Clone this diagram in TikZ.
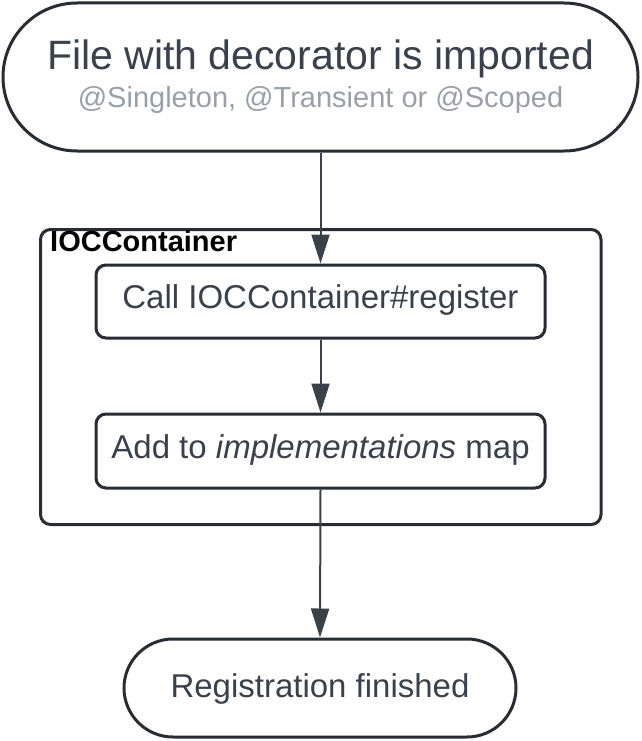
\documentclass[tikz,border=0pt]{standalone}
\usepackage{fontspec}
\setmainfont{Liberation Sans}
\usetikzlibrary{arrows.meta}
\definecolor{textc}{HTML}{3A414A}
\definecolor{linec}{HTML}{282C33}
\definecolor{subc}{HTML}{9AA0A8}
\tikzset{
  stadium/.style={draw=linec, line width=3pt, fill=white, inner sep=0pt},
  stepbox/.style={draw=linec, line width=3pt, fill=white, rounded corners=10pt, inner sep=0pt, minimum width=449pt},
  arr/.style={draw=textc, line width=2pt, -{Triangle[length=29pt,width=18pt]}},
  bigtxt/.style={text=textc, anchor=base, inner sep=0pt, font=\fontsize{41}{49}\selectfont},
  midtxt/.style={text=textc, anchor=base, inner sep=0pt, font=\fontsize{33}{40}\selectfont},
}
\begin{document}
\begin{tikzpicture}[x=1pt,y=-1pt]
\useasboundingbox (0,0) rectangle (641,741);
% container
\node[draw=linec, line width=3pt, rounded corners=10pt, minimum width=560.5pt, minimum height=295pt, inner sep=0pt] (cont) at (320.75,377) {};
\node[anchor=base west, inner sep=0pt, font=\fontsize{29}{35}\selectfont\bfseries] (contlbl) at (50,251) {IOCContainer};
% top
\node[stadium, rounded corners=74pt, minimum width=635pt, minimum height=148pt] (top) at (320.5,77) {};
\node[bigtxt] (toptxt) at (320.5,70) {File with decorator is imported};
\node[text=subc, anchor=base, inner sep=0pt, font=\fontsize{29}{35}\selectfont] (topsub) at (320.5,108) {@Singleton, @Transient or @Scoped};
% steps
\node[stepbox, minimum height=73pt] (call) at (320.5,301.5) {};
\node[midtxt] (calltxt) at (320.5,308) {Call IOCContainer\#register};
\node[stepbox, minimum height=74pt] (add) at (320.5,451) {};
\node[midtxt] (addtxt) at (320.5,458) {Add to \textit{implementations} map};
% bottom
\node[stadium, rounded corners=49pt, minimum width=392pt, minimum height=98pt] (bot) at (320,688) {};
\node[midtxt] (bottxt) at (320,697) {Registration finished};
% arrows
\draw[arr] (top.south) -- (call.north);
\draw[arr] (call.south) -- (add.north);
\draw[arr] (add.south) -- (bot.north);
\end{tikzpicture}
\end{document}
